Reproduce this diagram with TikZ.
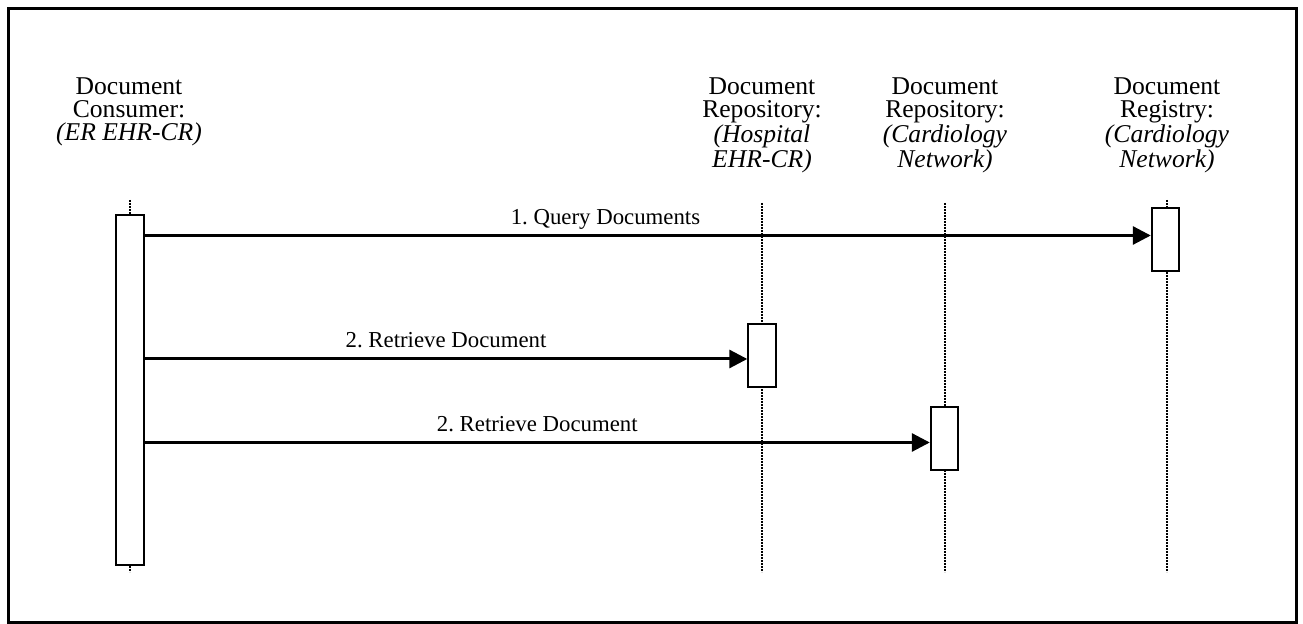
\documentclass[tikz,border=0pt]{standalone}
\usepackage{fontspec}
\setmainfont{Liberation Serif}
\usetikzlibrary{arrows.meta}
\frenchspacing
\tikzset{
  hdr/.style={align=center, inner sep=0pt, anchor=north, font=\fontsize{12.8}{11.6}\selectfont},
  act/.style={draw, fill=white, line width=0.9pt, inner sep=0pt, minimum width=13.8pt},
  life/.style={line width=1.2pt, dash pattern=on 0.8pt off 0.7pt},
  msg/.style={line width=1.5pt, -{Triangle[length=9pt,width=9pt]}},
  lbl/.style={anchor=base, inner sep=0pt, yshift=5.5pt, font=\fontsize{11.4}{13}\selectfont},
  frame/.style={line width=1.5pt}
}
\begin{document}
\begin{tikzpicture}[x=0.5pt,y=-0.5pt]
\useasboundingbox (0,0) rectangle (1303,624);
\draw[frame] (8.5,8.5) rectangle (1296,622.5);

% headers
\node[hdr] (hc) at (129,77) {Document\\Consumer:\\\textit{(ER EHR-CR)}};
\node[hdr] (hh) at (762,77) {Document\\Repository:\\\textit{(Hospital}\\\textit{EHR-CR)}};
\node[hdr] (hr) at (945,77) {Document\\Repository:\\\textit{(Cardiology}\\\textit{Network)}};
\node[hdr] (hg) at (1167,77) {Document\\Registry:\\\textit{(Cardiology}\\\textit{Network)}};

% lifeline ends
\coordinate (ct) at (130,200);
\coordinate (cb) at (130,572);
\coordinate (ht) at (762,203);
\coordinate (hb) at (762,572);
\coordinate (rt) at (945,203);
\coordinate (rb) at (945,572);
\coordinate (gt) at (1167,200);
\coordinate (gb) at (1167,572);

\draw[life] (ct) -- (cb);
\draw[life] (ht) -- (hb);
\draw[life] (rt) -- (rb);
\draw[life] (gt) -- (gb);

% activation boxes
\node[act, minimum height=175pt] (c) at (130,390) {};
\node[act, minimum height=31.5pt] (h) at (762,355.5) {};
\node[act, minimum height=31.5pt] (r) at (944.5,438.5) {};
\node[act, minimum height=31.5pt] (g) at (1165.5,239.5) {};

% messages
\draw[msg] (c.east |- 0,235.5) -- (g.west |- 0,235.5)
  node[lbl, pos=0.458] {1. Query Documents};
\draw[msg] (c.east |- 0,359) -- (h.west |- 0,359)
  node[lbl, pos=0.5] {2. Retrieve Document};
\draw[msg] (c.east |- 0,442.5) -- (r.west |- 0,442.5)
  node[lbl, pos=0.5] {2. Retrieve Document};
\end{tikzpicture}
\end{document}
